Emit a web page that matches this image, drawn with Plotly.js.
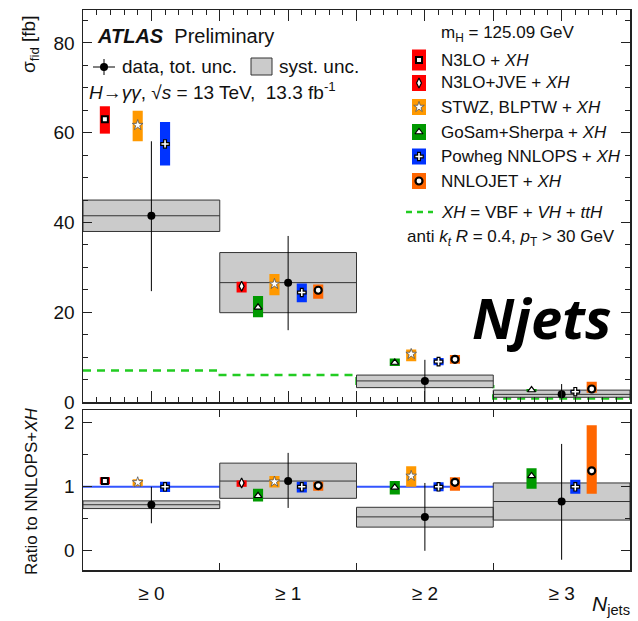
<!DOCTYPE html>
<html><head><meta charset="utf-8">
<script src="https://cdn.plot.ly/plotly-3.0.1.min.js"></script>
<style>html,body{margin:0;padding:0;background:#fff}#chart{width:638px;height:621px}</style>
</head><body><div id="chart"></div>
<script>
// ---------------- DATA ----------------
const categories = [0, 1, 2, 3];
const tickLabels = ["≥ 0", "≥ 1", "≥ 2", "≥ 3"];

// measured fiducial cross sections [fb]
const dataXs     = [41.5, 26.6, 4.7, 1.7];
const dataTotHi  = [58.1, 37.0, 9.4, 4.0];
const dataTotLo  = [24.7, 16.0, 0.0, -0.5];
const dataSystHi = [45.0, 33.3, 6.0, 2.65];
const dataSystLo = [38.0, 19.9, 3.2, 1.05];
const xhXs       = [7.0, 6.0, 3.5, 0.8];

// theory predictions [fb]
const n3loXs = [63.0, null, null, null];
const n3loLo = [59.8, null, null, null];
const n3loHi = [65.9, null, null, null];
const jveXs  = [null, 25.8, null, null];
const jveLo  = [null, 24.4, null, null];
const jveHi  = [null, 26.8, null, null];
const stwzXs = [61.7, 26.3, 10.7, null];
const stwzLo = [58.1, 23.8, 9.1, null];
const stwzHi = [64.9, 28.5, 11.7, null];
const gosamXs = [null, 21.1, 8.8, 2.67];
const gosamLo = [null, 18.9, 8.0, 2.3];
const gosamHi = [null, 23.6, 9.7, 2.9];
const nnlopsXs = [57.5, 24.4, 9.0, 2.3];
const nnlopsLo = [52.7, 22.2, 8.2, 2.1];
const nnlopsHi = [62.4, 26.4, 9.8, 2.5];
const nnlojetXs = [null, 24.9, 9.5, 2.9];
const nnlojetLo = [null, 23.0, 8.5, 2.05];
const nnlojetHi = [null, 26.2, 10.5, 4.5];

// ratio to NNLOPS + XH
const dataRatio       = [0.72, 1.09, 0.53, 0.77];
const dataRatioTotHi  = [1.00, 1.53, 1.06, 1.67];
const dataRatioTotLo  = [0.43, 0.67, 0.00, -0.14];
const dataRatioSystHi = [0.78, 1.37, 0.68, 1.06];
const dataRatioSystLo = [0.66, 0.82, 0.37, 0.48];
const n3loRatio   = [1.09, null, null, null];
const n3loRatioLo = [1.04, null, null, null];
const n3loRatioHi = [1.15, null, null, null];
const jveRatio    = [null, 1.06, null, null];
const jveRatioLo  = [null, 1.00, null, null];
const jveRatioHi  = [null, 1.10, null, null];
const stwzRatio   = [1.07, 1.08, 1.17, null];
const stwzRatioLo = [1.01, 0.99, 1.00, null];
const stwzRatioHi = [1.12, 1.17, 1.32, null];
const gosamRatio   = [null, 0.86, 0.99, 1.17];
const gosamRatioLo = [null, 0.77, 0.88, 0.97];
const gosamRatioHi = [null, 0.97, 1.09, 1.29];
const nnlopsRatio   = [1.00, 1.00, 1.00, 1.00];
const nnlopsRatioLo = [0.92, 0.91, 0.93, 0.89];
const nnlopsRatioHi = [1.08, 1.08, 1.07, 1.11];
const nnlojetRatio   = [null, 1.02, 1.07, 1.25];
const nnlojetRatioLo = [null, 0.94, 0.94, 0.89];
const nnlojetRatioHi = [null, 1.08, 1.15, 1.96];

// ---------------- STYLE ----------------
const FONT = "Liberation Sans, Arial, sans-serif";
const TXT = "#111";
const BOXHW = 0.037;
const theory = [
  {label:"N3LO + <i>XH</i>", xs:n3loXs, lo:n3loLo, hi:n3loHi, r:n3loRatio, rlo:n3loRatioLo, rhi:n3loRatioHi,
   color:"#ff0000", off:-0.34, sym:"square", size:6, lw:2, lc:"#000"},
  {label:"N3LO+JVE + <i>XH</i>", xs:jveXs, lo:jveLo, hi:jveHi, r:jveRatio, rlo:jveRatioLo, rhi:jveRatioHi,
   color:"#ff0000", off:-0.34, sym:"diamond-tall", size:7, lw:1.2, lc:"#000"},
  {label:"STWZ, BLPTW + <i>XH</i>", xs:stwzXs, lo:stwzLo, hi:stwzHi, r:stwzRatio, rlo:stwzRatioLo, rhi:stwzRatioHi,
   color:"#ff9900", off:-0.10, sym:"star", size:8, lw:0.8, lc:"#555"},
  {label:"GoSam+Sherpa + <i>XH</i>", xs:gosamXs, lo:gosamLo, hi:gosamHi, r:gosamRatio, rlo:gosamRatioLo, rhi:gosamRatioHi,
   color:"#009900", off:-0.22, sym:"triangle-up", size:7, lw:1.2, lc:"#000"},
  {label:"Powheg NNLOPS + <i>XH</i>", xs:nnlopsXs, lo:nnlopsLo, hi:nnlopsHi, r:nnlopsRatio, rlo:nnlopsRatioLo, rhi:nnlopsRatioHi,
   color:"#0033ff", off:0.10, sym:"cross", size:7, lw:1.2, lc:"#000"},
  {label:"NNLOJET + <i>XH</i>", xs:nnlojetXs, lo:nnlojetLo, hi:nnlojetHi, r:nnlojetRatio, rlo:nnlojetRatioLo, rhi:nnlojetRatioHi,
   color:"#ff6600", off:0.22, sym:"circle", size:7, lw:2.2, lc:"#000"}
];

const PL = 83, PR = 630, PT = 10, PB = 570;
const px = x => (x - PL) / (PR - PL);
const py = y => (PB - y) / (PB - PT);

const traces = [];
const skip = {hoverinfo:"skip", showlegend:false};

function boxes(xa, ya, xc, lo, hi, hw, fill, line) {
  const bx = [], by = [];
  xc.forEach((c,i)=>{
    bx.push(c-hw, c+hw, c+hw, c-hw, c-hw, null);
    by.push(lo[i], lo[i], hi[i], hi[i], lo[i], null);
  });
  return Object.assign({type:"scatter", mode:"lines", fill:"toself", fillcolor:fill, xaxis:xa, yaxis:ya,
    x:bx, y:by, line:line}, skip);
}

function panel(xa, ya, val, totHi, totLo, systHi, systLo, key, keyLo, keyHi) {
  traces.push(boxes(xa, ya, categories, systLo, systHi, 0.5, "#cbcbcb", {color:"#333", width:1}));
  const lx = [], ly = [];
  categories.forEach((c,i)=>{ lx.push(c-0.5, c+0.5, null); ly.push(val[i], val[i], null); });
  traces.push(Object.assign({type:"scatter", mode:"lines", xaxis:xa, yaxis:ya, x:lx, y:ly,
    line:{color:"#333", width:1}}, skip));
  theory.forEach(t=>{
    const xs=[], b=[], h=[];
    categories.forEach((cat,i)=>{
      if (t[key][i] === null) return;
      xs.push(cat + t.off); b.push(t[keyLo][i]); h.push(t[keyHi][i]);
    });
    traces.push(boxes(xa, ya, xs, b, h, BOXHW, t.color, {width:0, color:t.color}));
  });
  theory.forEach(t=>{
    const xs=[], c=[];
    categories.forEach((cat,i)=>{ if (t[key][i] !== null) { xs.push(cat + t.off); c.push(t[key][i]); } });
    traces.push(Object.assign({type:"scatter", mode:"markers", xaxis:xa, yaxis:ya, x:xs, y:c,
      marker:{symbol:t.sym, size:t.size, color:"#fff", line:{color:t.lc, width:t.lw}}, cliponaxis:false}, skip));
  });
  traces.push(Object.assign({type:"scatter", mode:"markers", xaxis:xa, yaxis:ya, x:categories, y:val,
    marker:{color:"#000", size:8},
    error_y:{type:"data", symmetric:false, array:totHi.map((h,i)=>h-val[i]),
             arrayminus:val.map((v,i)=>v-totLo[i]), width:0, thickness:1, color:"#000"}}, skip));
}

// reference line (ratio) and XH background, under the boxes
traces.push(Object.assign({type:"scatter", mode:"lines", xaxis:"x", yaxis:"y", x:[-0.5, 3.5], y:[1, 1],
  line:{color:"#3355ff", width:2}}, skip));
traces.push(Object.assign({type:"scatter", mode:"lines", xaxis:"x2", yaxis:"y2",
  x:[-0.5, 0.5, 1.5, 2.5, 3.5], y:[...xhXs, xhXs[xhXs.length-1]],
  line:{color:"#22cc22", width:2.5, dash:"8px,6px", shape:"hv"}}, skip));

panel("x2", "y2", dataXs, dataTotHi, dataTotLo, dataSystHi, dataSystLo, "xs", "lo", "hi");
panel("x", "y", dataRatio, dataRatioTotHi, dataRatioTotLo, dataRatioSystHi, dataRatioSystLo, "r", "rlo", "rhi");

// ---------- legend (overlay pixel axes) ----------
const legY = [60, 83, 107, 132, 156.5, 181];
const legH = [21, 16, 16, 16, 16, 16];
const shapes = [];
theory.forEach((t,i)=>{
  shapes.push({type:"rect", xref:"x3", yref:"y3", x0:412, x1:426, y0:legY[i]-legH[i]/2, y1:legY[i]+legH[i]/2,
    fillcolor:t.color, line:{width:0}, layer:"below"});
  traces.push(Object.assign({type:"scatter", mode:"markers", xaxis:"x3", yaxis:"y3", x:[419], y:[legY[i]],
    marker:{symbol:t.sym, size:t.size, color:"#fff", line:{color:t.lc, width:t.lw}}, cliponaxis:false}, skip));
});
shapes.push({type:"rect", xref:"x3", yref:"y3", x0:251, x1:272, y0:58, y1:75,
  fillcolor:"#cbcbcb", line:{color:"#333", width:1}, layer:"below"});
traces.push(Object.assign({type:"scatter", mode:"markers", xaxis:"x3", yaxis:"y3", x:[104], y:[67],
  marker:{color:"#000", size:8},
  error_x:{type:"data", array:[11], width:0, thickness:1, color:"#000"},
  error_y:{type:"data", array:[8], width:0, thickness:1, color:"#000"}, cliponaxis:false}, skip));
traces.push(Object.assign({type:"scatter", mode:"lines", xaxis:"x3", yaxis:"y3", x:[406, 433], y:[212, 212],
  line:{color:"#22cc22", width:2.5, dash:"6px,5px"}, cliponaxis:false}, skip));

// ---------- annotations ----------
function ann(x, y, text, size, opts) {
  return Object.assign({xref:"paper", yref:"paper", x:px(x), y:py(y), text:text, showarrow:false,
    xanchor:"left", yanchor:"middle", font:{family:FONT, size:size, color:TXT}}, opts||{});
}
const annotations = [
  ann(95, 36, "<b><i>ATLAS</i></b>  Preliminary", 20),
  ann(120, 67, "data, tot. unc.", 19),
  ann(277, 67, "syst. unc.", 19),
  ann(87, 91, "<i>H</i>→<i>γγ</i>, √<i>s</i> = 13 TeV,\u00a0\u00a013.3 fb<sup>-1</sup>", 19),
  ann(439, 34, "m<sub>H</sub> = 125.09 GeV", 17),
  ann(439, 212, "<i>XH</i> = VBF + <i>VH</i> + <i>ttH</i>", 17),
  ann(405, 238, "anti <i>k<sub>t</sub></i> <i>R</i> = 0.4, <i>p</i><sub>T</sub> > 30 GeV", 17),
  ann(542, 317, "<b><i>Njets</i></b>", 56, {xanchor:"center", font:{family:"Open Sans, sans-serif", size:56, color:"#000"}}),
  ann(30, 45, "σ<sub>fid</sub> [fb]", 19, {xanchor:"center", textangle:-90}),
  ann(31, 492, "Ratio to NNLOPS+<i>XH</i>", 17, {xanchor:"center", textangle:-90}),
  ann(632, 605, "<i>N</i><sub>jets</sub>", 21, {xanchor:"right"})
];
theory.forEach((t,i)=>annotations.push(ann(439, legY[i], t.label, 17)));

// ---------- layout ----------
const axBase = {showgrid:false, zeroline:false, showline:true, linecolor:"#222", linewidth:1.5,
  mirror:"ticks", ticks:"inside", tickcolor:"#222", tickwidth:1,
  tickfont:{family:FONT, size:19, color:TXT}};

const layout = {
  width:638, height:621, paper_bgcolor:"#fff", plot_bgcolor:"rgba(0,0,0,0)",
  margin:{l:PL, r:638-PR, t:PT, b:621-PB},
  showlegend:false,
  xaxis: Object.assign({}, axBase, {domain:[0,1], anchor:"y", range:[-0.5,3.5],
    tickmode:"array", tickvals:categories, ticktext:tickLabels, ticklen:0, ticklabelstandoff:6,
    minor:{tick0:0.5, dtick:1, ticks:"inside", ticklen:7, tickcolor:"#222"}}),
  yaxis: Object.assign({}, axBase, {domain:[0, 0.2857], anchor:"x", range:[-0.3, 2.2],
    tickmode:"array", tickvals:[0,1,2], ticklen:9, ticklabelstandoff:3,
    minor:{tick0:0, dtick:0.5, ticks:"inside", ticklen:5, tickcolor:"#222"}}),
  xaxis2: Object.assign({}, axBase, {domain:[0,1], anchor:"y2", matches:"x", range:[-0.5,3.5],
    tickmode:"linear", tick0:-0.5, dtick:0.5, ticklen:11, showticklabels:false,
    minor:{dtick:0.1, ticks:"inside", ticklen:5, tickcolor:"#222"}}),
  yaxis2: Object.assign({}, axBase, {domain:[0.3, 1], anchor:"x2", range:[0, 87.35],
    tickmode:"linear", tick0:0, dtick:20, ticklen:9, ticklabelstandoff:3,
    minor:{dtick:5, ticks:"inside", ticklen:5, tickcolor:"#222"}}),
  xaxis3: {domain:[0,1], anchor:"y3", range:[PL, PR], visible:false, fixedrange:true},
  yaxis3: {domain:[0,1], anchor:"x3", range:[PB, PT], visible:false, fixedrange:true},
  shapes: shapes,
  annotations: annotations
};

Plotly.newPlot("chart", traces, layout, {staticPlot:true, displayModeBar:false});
</script>
</body></html>
